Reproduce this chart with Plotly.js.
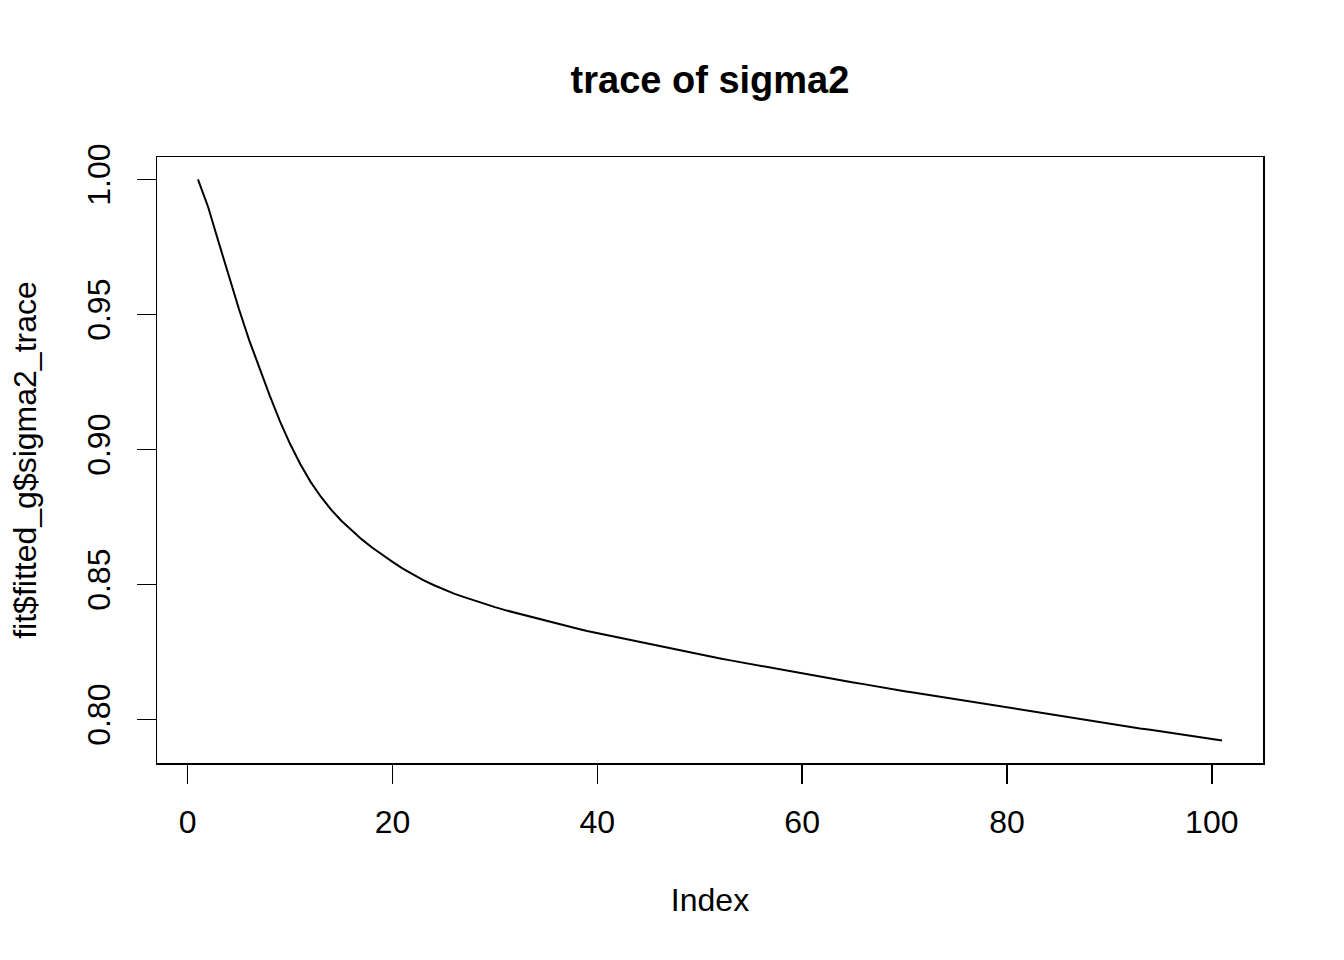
<!DOCTYPE html>
<html>
<head>
<meta charset="utf-8">
<script src="https://cdn.plot.ly/plotly-3.0.1.min.js"></script>
<style>html,body{margin:0;padding:0;background:#fff;}#chart{width:1344px;height:960px;}</style>
</head>
<body>
<div id="chart"></div>
<script>
// Values (fit$fitted_g$sigma2_trace, index 1..101)
var sigma2Trace = [
  1.0000, 0.9897, 0.9770, 0.9640, 0.9520, 0.9405, 0.9300, 0.9200, 0.9105, 0.9020,
  0.8945, 0.8880, 0.8825, 0.8777, 0.8736, 0.8700, 0.8667, 0.8637, 0.8609, 0.8584,
  0.8559, 0.8536, 0.8516, 0.8498, 0.8481, 0.8466, 0.8453, 0.8440, 0.8428, 0.8416,
  0.8405, 0.8395, 0.8385, 0.8375, 0.8365, 0.8355, 0.8346, 0.8337, 0.8328, 0.8320,
  0.8312, 0.8304, 0.8296, 0.8288, 0.8280, 0.8272, 0.8264, 0.8256, 0.8248, 0.8240,
  0.8233, 0.8226, 0.8219, 0.8212, 0.8205, 0.8198, 0.8191, 0.8184, 0.8177, 0.8170,
  0.8163, 0.8157, 0.8150, 0.8144, 0.8137, 0.8131, 0.8124, 0.8118, 0.8111, 0.8105,
  0.8099, 0.8093, 0.8086, 0.8080, 0.8074, 0.8068, 0.8062, 0.8055, 0.8049, 0.8043,
  0.8037, 0.8031, 0.8025, 0.8019, 0.8013, 0.8008, 0.8002, 0.7996, 0.7990, 0.7984,
  0.7978, 0.7973, 0.7967, 0.7962, 0.7956, 0.7950, 0.7945, 0.7939, 0.7933, 0.7928,
  0.7922
];
var indexValues = [];
for (var i = 0; i < sigma2Trace.length; i++) indexValues.push(i + 1);

var xTickVals = [0, 20, 40, 60, 80, 100];
var yTickVals = [0.80, 0.85, 0.90, 0.95, 1.00];
var yTickText = ["0.80", "0.85", "0.90", "0.95", "1.00"];

// R-style 4% axis padding
var xMin = 1, xMax = sigma2Trace.length;
var yMin = Math.min.apply(null, sigma2Trace), yMax = Math.max.apply(null, sigma2Trace);
var xPad = (xMax - xMin) * 0.04, yPad = (yMax - yMin) * 0.04;

var font = "Liberation Sans, Arial, Helvetica, sans-serif";

var trace = {
  x: indexValues,
  y: sigma2Trace,
  type: "scatter",
  mode: "lines",
  line: {color: "#000000", width: 2},
  hoverinfo: "x+y"
};

var layout = {
  width: 1344,
  height: 960,
  paper_bgcolor: "#ffffff",
  plot_bgcolor: "#ffffff",
  showlegend: false,
  margin: {l: 157, r: 81, t: 157, b: 197, pad: 0},
  font: {family: font, color: "#000000", size: 32},
  title: {
    text: "<b>trace of sigma2</b>",
    font: {family: font, size: 38, color: "#000000"},
    xref: "paper", x: 0.5, xanchor: "center",
    yref: "container", y: 1 - 80 / 960, yanchor: "middle"
  },
  xaxis: {
    range: [xMin - xPad, xMax + xPad],
    tickmode: "array",
    tickvals: xTickVals,
    ticktext: xTickVals.map(String),
    ticks: "outside",
    ticklen: 19,
    tickwidth: 1.5,
    tickcolor: "#000000",
    ticklabelstandoff: 11,
    showline: true,
    linecolor: "#000000",
    linewidth: 1.5,
    mirror: true,
    showgrid: false,
    zeroline: false,
    tickfont: {family: font, size: 32, color: "#000000"},
    title: {text: "Index", font: {family: font, size: 32, color: "#000000"}, standoff: 49}
  },
  yaxis: {
    range: [yMin - yPad, yMax + yPad],
    tickmode: "array",
    tickvals: yTickVals,
    ticktext: yTickText,
    tickangle: -90,
    ticks: "outside",
    ticklen: 19,
    tickwidth: 1.5,
    tickcolor: "#000000",
    ticklabelstandoff: 14,
    showline: true,
    linecolor: "#000000",
    linewidth: 1.5,
    mirror: true,
    showgrid: false,
    zeroline: false,
    tickfont: {family: font, size: 32, color: "#000000"},
    title: {text: "fit$fitted_g$sigma2_trace", font: {family: font, size: 32, color: "#000000"}, standoff: 34}
  }
};

Plotly.newPlot("chart", [trace], layout, {staticPlot: true, displayModeBar: false});
</script>
</body>
</html>
